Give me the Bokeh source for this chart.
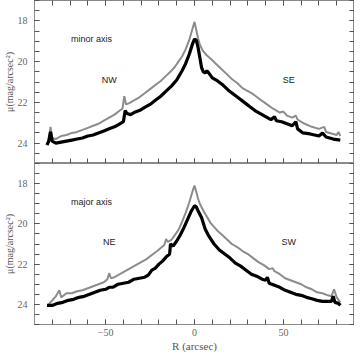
from bokeh.plotting import figure
from bokeh.layouts import column
from bokeh.models import (Range1d, LinearAxis, SingleIntervalTicker, Label, GlobalInlineStyleSheet)
from bokeh.embed import file_html
from bokeh.resources import INLINE

# ---- minor axis profiles (top panel) ----
minor_hi_r = [-82, -81, -80, -78, -75, -72, -69, -66, -63, -60, -57, -54, -51, -48, -45, -42, -40.5, -39.5, -38.5, -37,
              -34, -31, -28, -25, -22, -19, -16, -13, -11, -9, -7, -5, -3, -1.5, 0, 1, 2, 3, 4, 5, 7, 9, 12, 15, 18, 21,
              24, 27, 30, 33, 36, 40, 44, 48, 50, 52, 55, 57, 58, 62, 66, 70, 73, 74, 78, 80, 81, 82]
minor_hi_mu = [23.95, 23.2, 23.75, 23.8, 23.65, 23.6, 23.5, 23.45, 23.35, 23.25, 23.15, 23.05, 22.9, 22.75, 22.6, 22.4,
               22.3, 21.7, 22.1, 22.05, 21.9, 21.75, 21.55, 21.35, 21.15, 20.95, 20.7, 20.45, 20.25, 20.0, 19.75, 19.4,
               18.95, 18.5, 18.05, 18.45, 18.85, 19.15, 19.35, 19.5, 19.7, 19.85, 20.1, 20.35, 20.6, 20.85, 21.05, 21.3,
               21.45, 21.6, 21.8, 22.05, 22.3, 22.5, 22.45, 22.65, 22.75, 22.65, 22.85, 23.05, 23.2, 23.3, 23.2, 23.45,
               23.55, 23.6, 23.45, 23.65]
minor_lo_r = [-83, -82, -81, -80, -78, -75, -72, -69, -66, -63, -60, -57, -54, -51, -48, -45, -42, -40, -39, -38, -36,
              -34, -31, -28, -25, -22, -19, -16, -13, -10, -7, -5, -3, -1, 0, 1, 2, 3, 4, 5, 6, 7, 8, 10, 13, 16, 19, 22,
              25, 28, 31, 34, 37, 40, 43, 45, 46, 49, 52, 55, 57, 58, 61, 65, 70, 72, 74, 78, 82]
minor_lo_mu = [24.1, 23.9, 23.45, 23.9, 24.0, 23.95, 23.9, 23.85, 23.8, 23.75, 23.65, 23.6, 23.5, 23.4, 23.3, 23.2,
               23.05, 22.95, 22.4, 22.55, 22.6, 22.5, 22.4, 22.25, 22.1, 21.9, 21.7, 21.45, 21.2, 20.9, 20.45, 20.1,
               19.65, 19.1, 18.9, 18.95, 19.3, 19.8, 20.3, 20.5, 20.55, 20.45, 20.55, 20.8, 20.95, 21.15, 21.4, 21.6,
               21.8, 22.0, 22.2, 22.4, 22.55, 22.7, 22.85, 22.7, 22.9, 22.95, 23.05, 23.15, 22.95, 23.3, 23.5, 23.55,
               23.65, 23.5, 23.7, 23.8, 23.85]

# ---- major axis profiles (bottom panel) ----
major_hi_r = [-82, -80, -78, -76, -75, -72, -69, -66, -63, -60, -57, -54, -51, -49, -48, -47, -45, -42, -39, -36, -33,
              -30, -27, -24, -21, -19, -17, -16, -15, -13, -11, -9, -7, -5, -3, -1, 0, 1, 2, 3, 5, 7, 9, 11, 13, 15,
              18, 21, 24, 27, 30, 33, 36, 39, 42, 44, 45, 48, 51, 54, 57, 60, 63, 66, 69, 72, 75, 77, 78.5, 80, 82]
major_hi_mu = [24.0, 23.8, 23.6, 23.3, 23.65, 23.45, 23.45, 23.35, 23.3, 23.2, 23.1, 23.0, 22.9, 22.75, 22.45, 22.7,
               22.65, 22.5, 22.35, 22.2, 22.05, 21.9, 21.75, 21.55, 21.35, 21.2, 21.05, 20.75, 20.9, 20.8, 20.55, 20.3,
               19.9, 19.45, 18.95, 18.35, 18.1, 18.4, 18.75, 19.0, 19.35, 19.65, 19.95, 20.15, 20.35, 20.5, 20.75,
               21.0, 21.15, 21.35, 21.5, 21.7, 21.9, 22.05, 22.25, 22.2, 22.35, 22.5, 22.7, 22.8, 22.9, 23.0, 23.15,
               23.25, 23.4, 23.45, 23.55, 23.6, 23.25, 23.65, 23.9]
major_lo_r = [-83, -80, -77, -74, -71, -68, -65, -62, -59, -56, -53, -50, -48, -46, -43, -40, -37, -34, -31, -28, -26,
              -24, -22, -20, -18, -16, -14, -13.5, -12, -10, -8, -6, -4, -2, 0, 1, 2, 4, 6, 8, 11, 14, 17, 20, 23, 26,
              29, 32, 35, 38, 40, 41, 42, 45, 48, 51, 54, 57, 60, 63, 66, 69, 72, 75, 77, 78, 79, 81, 82]
major_lo_mu = [24.05, 24.05, 23.95, 23.9, 23.8, 23.75, 23.65, 23.6, 23.5, 23.4, 23.3, 23.25, 23.15, 23.15, 23.0, 22.95,
               22.9, 22.75, 22.7, 22.65, 22.55, 22.3, 22.2, 22.0, 21.85, 21.65, 21.5, 21.0, 21.1, 20.85, 20.55, 20.2,
               19.8, 19.4, 19.1, 19.15, 19.35, 19.7, 20.25, 20.6, 21.0, 21.3, 21.5, 21.7, 21.95, 22.1, 22.3, 22.5, 22.6,
               22.75, 22.8, 22.65, 22.95, 23.05, 23.15, 23.3, 23.4, 23.5, 23.55, 23.65, 23.72, 23.8, 23.85, 23.85,
               23.85, 23.6, 23.9, 23.95, 24.05]

# ---- panel annotations ----
minor_text = ["minor axis", "NW", "SE"]
minor_text_r = [-58, -48, 53]
minor_text_mu = [18.9, 20.9, 20.9]
major_text = ["major axis", "NE", "SW"]
major_text_r = [-58, -48, 53]
major_text_mu = [18.9, 20.9, 20.9]

x_tick_overrides = {-50: "\u221250", 0: "0", 50: "50"}

AX = "#8a8a8a"
TK = "#555555"
LBL = "#666666"


def style_ticks(ax):
    ax.major_tick_in = 5
    ax.major_tick_out = 0
    ax.minor_tick_in = 5
    ax.minor_tick_out = 0
    ax.axis_line_color = AX
    ax.major_tick_line_color = TK
    ax.minor_tick_line_color = TK


def hidden(ax):
    ax.major_label_standoff = 0
    ax.major_label_text_font_size = "0px"
    ax.axis_label = None


def panel(hi_r, hi_mu, lo_r, lo_mu, texts, tr, tmu, bottom, fh):
    p = figure(frame_width=320, frame_height=fh, output_backend="svg", toolbar_location=None,
               x_range=Range1d(-90, 90), y_range=Range1d(25, 17),
               x_axis_location=None, y_axis_location=None,
               min_border_left=0, min_border_right=0, min_border_top=0, min_border_bottom=0)
    p.xgrid.visible = False
    p.ygrid.visible = False
    p.outline_line_color = AX
    p.background_fill_color = "white"

    ya = LinearAxis(ticker=SingleIntervalTicker(interval=2, num_minor_ticks=4),
                    axis_label="\u03bc(mag/arcsec\u00b2)")
    style_ticks(ya)
    ya.major_label_text_font = "Liberation Serif"
    ya.major_label_text_font_size = "10px"
    ya.major_label_text_color = LBL
    ya.major_label_standoff = 7
    ya.axis_label_text_font = "Liberation Serif"
    ya.axis_label_text_font_style = "normal"
    ya.axis_label_text_font_size = "10px"
    ya.axis_label_text_color = "#555555"
    ya.axis_label_standoff = 0
    p.add_layout(ya, "left")

    yr = LinearAxis(ticker=SingleIntervalTicker(interval=2, num_minor_ticks=4))
    style_ticks(yr)
    hidden(yr)
    p.add_layout(yr, "right")

    if not bottom:
        xt = LinearAxis(ticker=SingleIntervalTicker(interval=50, num_minor_ticks=5))
        style_ticks(xt)
        hidden(xt)
        p.add_layout(xt, "above")

    xb = LinearAxis(ticker=SingleIntervalTicker(interval=50, num_minor_ticks=5))
    style_ticks(xb)
    if bottom:
        xb.axis_label = "R (arcsec)"
        xb.major_label_overrides = x_tick_overrides
        xb.major_label_text_font = "Liberation Serif"
        xb.major_label_text_font_size = "10px"
        xb.major_label_text_color = LBL
        xb.major_label_standoff = 4
        xb.axis_label_text_font = "Liberation Serif"
        xb.axis_label_text_font_style = "normal"
        xb.axis_label_text_font_size = "11px"
        xb.axis_label_text_color = "#555555"
        xb.axis_label_standoff = 1
    else:
        hidden(xb)
    p.add_layout(xb, "below")

    p.line(hi_r, hi_mu, line_color="#8c8c8c", line_width=2)
    p.line(lo_r, lo_mu, line_color="black", line_width=3.2)

    for t, x, y in zip(texts, tr, tmu):
        p.add_layout(Label(x=x, y=y, text=t, text_align="center", text_baseline="middle",
                           text_font="Liberation Sans", text_font_size="9px", text_color="#222222"))
    return p


top = panel(minor_hi_r, minor_hi_mu, minor_lo_r, minor_lo_mu, minor_text, minor_text_r, minor_text_mu, False, 163)
bot = panel(major_hi_r, major_hi_mu, major_lo_r, major_lo_mu, major_text, major_text_r, major_text_mu, True, 161)

page_css = GlobalInlineStyleSheet(css="html, body { margin: 0; padding: 0; }")
layout = column(top, bot, spacing=0, stylesheets=[page_css])
open("out.html", "w").write(file_html(layout, INLINE))
